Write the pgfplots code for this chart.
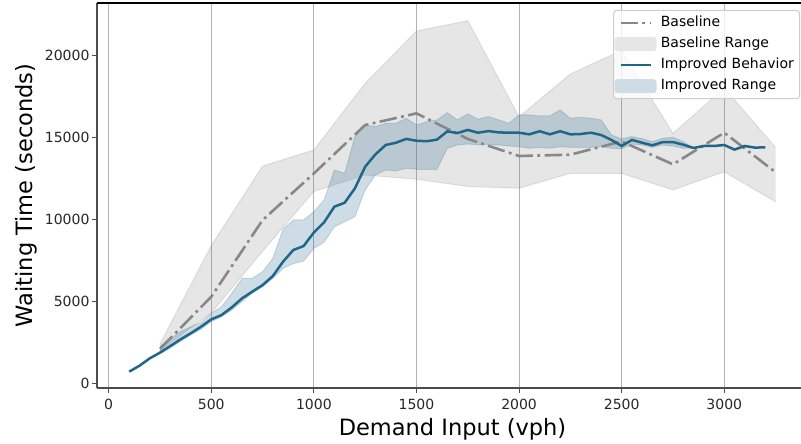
\documentclass[border=0pt]{standalone}
\usepackage{fontspec}
\setmainfont{DejaVu Sans}
\usepackage{pgfplots}
\usepackage{pgfplotstable}
\pgfplotsset{compat=1.18}
\usepgfplotslibrary{fillbetween}

\definecolor{basegray}{RGB}{136,136,136}
\definecolor{rangegray}{RGB}{128,128,128}
\definecolor{impblue}{RGB}{32,102,136}
\definecolor{legbluepatch}{RGB}{206,221,229}
\definecolor{leggraypatch}{RGB}{230,230,230}

% baseline: mean and min/max over runs
\pgfplotstableread{
x     mean   lo     hi
250   2100   2000   2400
500   5280   4300   8400
750   9950   8050   13250
1000  12800  11700  14230
1250  15750  12700  18290
1500  16460  12440  21480
1750  14900  12000  22110
2000  13860  11900  16250
2250  13940  12800  18860
2500  14750  12800  20300
2750  13350  11790  15240
3000  15280  12900  18000
3250  12870  11070  14390
}\basetab

% improved behaviour, mean
\pgfplotstableread{
x     mean
100   710
150   1070
200   1520
250   1870
300   2270
350   2680
400   3050
450   3450
500   3900
550   4160
600   4630
650   5180
700   5590
750   5990
800   6540
850   7420
900   8130
950   8370
1000  9200
1050  9820
1100  10770
1150  11010
1200  11890
1250  13210
1300  13960
1350  14530
1400  14670
1450  14900
1500  14790
1550  14760
1600  14860
1650  15360
1700  15260
1750  15450
1800  15280
1850  15380
1900  15300
1950  15280
2000  15280
2050  15180
2100  15370
2150  15180
2200  15370
2250  15180
2300  15200
2350  15280
2400  15140
2450  14840
2500  14470
2550  14840
2600  14670
2650  14510
2700  14710
2750  14710
2800  14550
2850  14350
2900  14470
2950  14470
3000  14530
3050  14250
3100  14470
3150  14370
3200  14390
}\imptab

% improved behaviour, min/max
\pgfplotstableread{
x     lo     hi
250   1800   2250
300   2150   2700
350   2550   3150
400   2950   3450
450   3300   3700
500   3760   4270
550   4060   4670
600   4470   5490
650   4980   6400
700   5490   6400
750   5890   6800
800   6400   7620
850   7010   9400
900   7300   9960
950   7450   9960
1000  8230   10460
1050  8600   11180
1100  9550   13010
1150  9850   12800
1200  10160  15040
1250  11790  15750
1300  12700  15650
1350  13010  15850
1400  12950  15850
1450  13110  16160
1500  13050  15750
1550  13050  15950
1600  13050  16060
1650  14330  16500
1700  14530  16060
1750  14590  16420
1800  14550  16100
1850  14570  16260
1900  14530  16060
1950  14470  15850
2000  14430  16360
2050  14330  16360
2100  14390  16300
2150  14330  16300
2200  14430  16670
2250  14390  16160
2300  14390  16220
2350  14390  16160
2400  14430  16060
2450  14330  15140
2500  14300  14900
2550  14590  15040
2600  14530  14920
2650  14390  14730
2700  14530  14940
2750  14470  15000
2800  14330  14730
2850  14350  14350
}\imprange

\pgfplotsset{
    lineleg/.style={legend image code/.code={
        \path[draw=none, fill=none] (0pt,-7pt) rectangle (40.3pt,7pt);
        \draw[##1] (0pt,0pt) -- (30pt,0pt);}},
    patchleg/.style={legend image code/.code={
        \path[draw=none, fill=none] (0pt,-7pt) rectangle (40.3pt,7pt);
        \fill[##1, draw=none, overlay] (-6pt,-7pt) rectangle (36pt,7pt);}},
    basedash/.style={dash pattern=on 17.5pt off 4.4pt on 2.8pt off 4.4pt},
}

\begin{document}
\begin{tikzpicture}
\begin{axis}[
    at={(97pt,56pt)}, anchor=south west,
    scale only axis,
    width=704pt, height=385pt,
    xmin=-57, xmax=3374,
    ymin=-287, ymax=23190,
    axis x line=bottom, axis y line=left,
    axis line style={-, black!70, line width=1.1pt},
    xtick={0,500,...,3000},
    ytick={0,5000,...,20000},
    tick align=outside,
    major tick length=5pt,
    tick style={black!70, line width=1.1pt},
    xmajorgrids,
    grid style={black!30, line width=1pt},
    scaled ticks=false,
    /pgf/number format/1000 sep={},
    /pgf/number format/assume math mode=true,
    tick label style={font=\fontsize{14}{16}\selectfont, text=black!85},
    xticklabel style={yshift=-2.5pt},
    yticklabel style={xshift=1pt},
    xlabel={Demand Input (vph)},
    ylabel={Waiting Time (seconds)},
    label style={font=\fontsize{22.5}{26}\selectfont},
    xlabel style={at={(axis description cs:0.505,-0.1221)}, anchor=base},
    ylabel style={at={(axis description cs:-0.0913,0.5)}, anchor=base},
    legend cell align=left,
    legend style={
        at={(axis description cs:1,1)}, anchor=north east,
        xshift=-1pt, yshift=-7pt,
        draw=black!20, line width=1pt, rounded corners=3pt,
        fill=white, fill opacity=0.8, draw opacity=1, text opacity=1,
        font=\fontsize{14}{16}\selectfont,
        inner xsep=5.6pt, inner ysep=5.6pt,
        row sep=7pt,
        nodes={inner xsep=0pt, inner ysep=0pt, text height=10.5pt, text depth=3.5pt},
    },
]
% baseline range
\addplot[name path=bhi, draw=rangegray, draw opacity=0.2, line width=1pt, forget plot]
    table[x=x, y=hi] {\basetab};
\addplot[name path=blo, draw=rangegray, draw opacity=0.2, line width=1pt, forget plot]
    table[x=x, y=lo] {\basetab};
\addplot[fill=rangegray, fill opacity=0.2, draw=none, forget plot]
    fill between[of=bhi and blo];

% improved range
\addplot[name path=ihi, draw=impblue, draw opacity=0.2, line width=1pt, forget plot]
    table[x=x, y=hi] {\imprange};
\addplot[name path=ilo, draw=impblue, draw opacity=0.2, line width=1pt, forget plot]
    table[x=x, y=lo] {\imprange};
\addplot[fill=impblue, fill opacity=0.22, draw=none, forget plot]
    fill between[of=ihi and ilo];

% mean lines
\addplot[basegray, line width=2.6pt, basedash, forget plot]
    table[x=x, y=mean] {\basetab};
\addplot[impblue, line width=2.5pt, forget plot]
    table[x=x, y=mean] {\imptab};

\draw[black, line width=1.1pt] (rel axis cs:0,1) -- (rel axis cs:1,1);

\addlegendimage{lineleg, basegray, line width=2.6pt, basedash}
\addlegendentry{Baseline}
\addlegendimage{patchleg, leggraypatch, fill opacity=1}
\addlegendentry{Baseline Range}
\addlegendimage{lineleg, impblue, line width=2.5pt}
\addlegendentry{Improved Behavior}
\addlegendimage{patchleg, legbluepatch, fill opacity=1}
\addlegendentry{Improved Range}
\end{axis}
\pgfresetboundingbox
\path[use as bounding box] (0,0) rectangle (801pt,444pt);
\end{tikzpicture}
\end{document}
